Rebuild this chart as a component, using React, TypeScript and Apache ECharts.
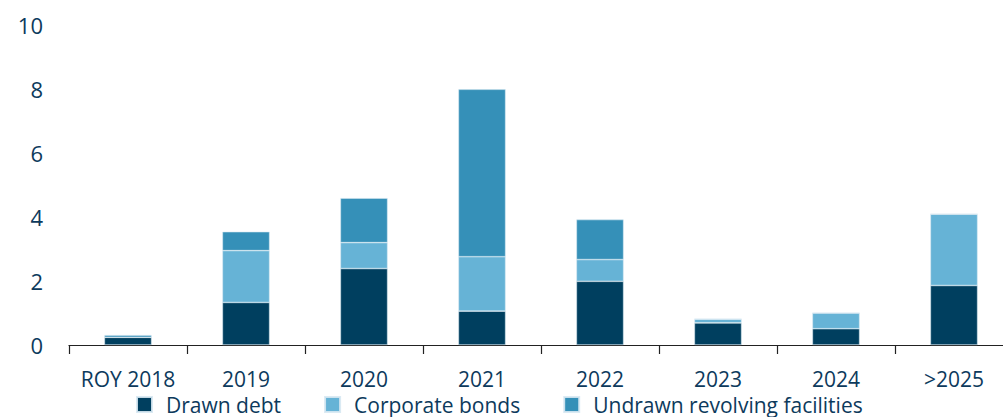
import React, { useEffect, useRef } from "react";
import * as echarts from "echarts";

const categories = ["ROY 2018", "2019", "2020", "2021", "2022", "2023", "2024", ">2025"];
const drawnDebt = [0.24, 1.33, 2.39, 1.06, 1.99, 0.69, 0.51, 1.86];
const corporateBonds = [0, 1.62, 0.81, 1.7, 0.68, 0.12, 0.49, 2.23];
const undrawnFacilities = [0.07, 0.59, 1.39, 5.23, 1.25, 0, 0, 0];
const yTicks = [0, 2, 4, 6, 8, 10];

const TEXT = "#0d3a5c";
const FONT = "'Open Sans', 'Noto Sans', sans-serif";

export default function App() {
  const ref = useRef<HTMLDivElement>(null);
  useEffect(() => {
    if (!ref.current) return;
    const chart = echarts.init(ref.current, undefined, { renderer: "svg" });
    const mk = (name: string, data: number[], color: string) => ({
      name,
      type: "bar",
      stack: "total",
      data,
      barWidth: "40%",
      itemStyle: { color, borderColor: "rgba(215,232,242,0.9)", borderWidth: 0.6 },
    });
    chart.setOption({
      animation: false,
      textStyle: { fontFamily: FONT },
      grid: { left: 69, right: 0, top: 25, bottom: 72, containLabel: false },
      legend: {
        top: 389,
        left: 131,
        icon: "rect",
        itemWidth: 15,
        itemHeight: 15,
        itemGap: 43,
        textStyle: { color: TEXT, fontSize: 21, lineHeight: 20, fontFamily: FONT, padding: [0, 0, 0, 9] },
        data: ["Drawn debt", "Corporate bonds", "Undrawn revolving facilities"],
      },
      xAxis: {
        type: "category",
        data: categories,
        axisLine: { lineStyle: { color: "#222", width: 1.2 } },
        axisTick: { show: true, interval: 0, length: 9, lineStyle: { color: "#222", width: 1.2 } },
        axisLabel: { interval: 0, color: TEXT, fontSize: 21, lineHeight: 20, margin: 24, fontFamily: FONT },
      },
      yAxis: {
        type: "value",
        min: yTicks[0],
        max: yTicks[yTicks.length - 1],
        interval: 2,
        splitLine: { show: false },
        axisLine: { show: false },
        axisTick: { show: false },
        axisLabel: { color: TEXT, fontSize: 22, margin: 26, fontFamily: FONT },
      },
      series: [
        mk("Drawn debt", drawnDebt, "#003f5f"),
        mk("Corporate bonds", corporateBonds, "#66b3d6"),
        mk("Undrawn revolving facilities", undrawnFacilities, "#3590b8"),
      ],
    });
    return () => chart.dispose();
  }, []);
  return (
    <div style={{ position: "absolute", left: 0, top: 0, width: 1003, height: 417, overflow: "hidden" }}>
      <div ref={ref} style={{ width: 1013, height: 417 }} />
    </div>
  );
}
